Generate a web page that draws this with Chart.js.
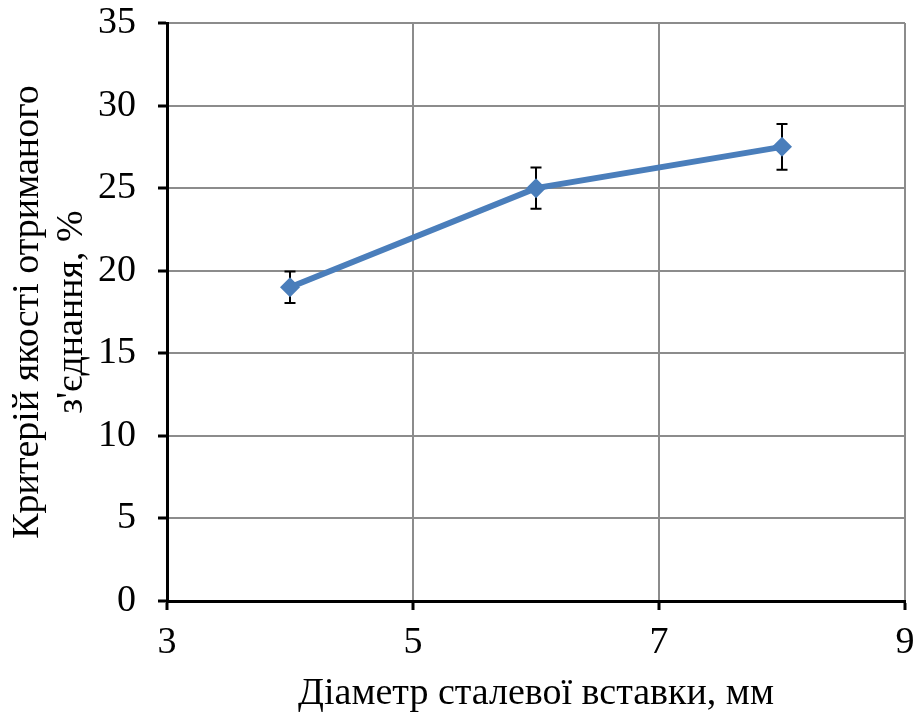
<!DOCTYPE html>
<html>
<head>
<meta charset="utf-8">
<script src="https://cdn.jsdelivr.net/npm/chart.js@4"></script>
<style>
  html, body { margin: 0; padding: 0; background: #fff; }
  #wrap { width: 915px; height: 717px; }
</style>
</head>
<body>
<div id="wrap"><canvas id="myChart" width="915" height="717"></canvas></div>
<script>
const diameters = [4, 6, 8];
const quality = [19, 25, 27.5];
const errors = [0.95, 1.25, 1.38];

const xTitle = "Діаметр сталевої вставки, мм";
const yTitle = ["Критерій якості отриманого", "з'єднання, %"];

const serif = "'Liberation Serif', 'Times New Roman', serif";

const errorBars = {
  id: 'errorBars',
  beforeDatasetsDraw(chart) {
    const ctx = chart.ctx;
    const x = chart.scales.x;
    const y = chart.scales.y;
    ctx.save();
    ctx.strokeStyle = '#000';
    ctx.lineWidth = 2;
    for (let i = 0; i < diameters.length; i++) {
      const px = x.getPixelForValue(diameters[i]);
      const top = y.getPixelForValue(quality[i] + errors[i]);
      const bot = y.getPixelForValue(quality[i] - errors[i]);
      ctx.beginPath();
      ctx.moveTo(px, top);
      ctx.lineTo(px, bot);
      ctx.moveTo(px - 5.5, top);
      ctx.lineTo(px + 5.5, top);
      ctx.moveTo(px - 5.5, bot);
      ctx.lineTo(px + 5.5, bot);
      ctx.stroke();
    }
    ctx.restore();
  }
};

const data = {
  datasets: [{
    data: diameters.map((d, i) => ({ x: d, y: quality[i] })),
    borderColor: '#4a7ebb',
    backgroundColor: '#4a7ebb',
    borderWidth: 6,
    pointStyle: 'rectRot',
    pointRadius: 10,
    pointBorderWidth: 0,
    tension: 0
  }]
};

const config = {
  type: 'scatter',
  data,
  options: {
    responsive: false,
    animation: false,
    showLine: true,
    layout: { padding: { top: 23, right: 10, left: 0, bottom: 0 } },
    plugins: { legend: { display: false }, tooltip: { enabled: false } },
    scales: {
      x: {
        type: 'linear',
        min: 3,
        max: 9,
        afterFit(scale) {
          scale.height = 116;
          scale.paddingLeft = 0;
          scale.paddingRight = 0;
        },
        ticks: {
          stepSize: 2,
          color: '#000',
          padding: 10,
          font: { family: serif, size: 38 }
        },
        grid: {
          color: '#8c8c8c',
          lineWidth: 2,
          tickColor: '#000',
          tickLength: 9,
          tickWidth: 3
        },
        border: { color: '#000', width: 3 },
        title: {
          display: true,
          text: xTitle,
          color: '#000',
          padding: { top: 0, bottom: 0 },
          font: { family: serif, size: 38 }
        }
      },
      y: {
        type: 'linear',
        min: 0,
        max: 35,
        afterFit(scale) {
          scale.width = 167;
          scale.paddingTop = 0;
          scale.paddingBottom = 0;
        },
        ticks: {
          stepSize: 5,
          color: '#000',
          padding: 22,
          font: { family: serif, size: 38 }
        },
        grid: {
          color: '#8c8c8c',
          lineWidth: 2,
          tickColor: '#000',
          tickLength: 9,
          tickWidth: 3
        },
        border: { color: '#000', width: 3 },
        title: {
          display: true,
          text: yTitle,
          color: '#000',
          padding: { top: 6, bottom: 0 },
          font: { family: serif, size: 38, lineHeight: 1.16 }
        }
      }
    }
  },
  plugins: [errorBars]
};

window.addEventListener("load", () => {
  new Chart(document.getElementById('myChart'), config);
});
</script>
</body>
</html>
